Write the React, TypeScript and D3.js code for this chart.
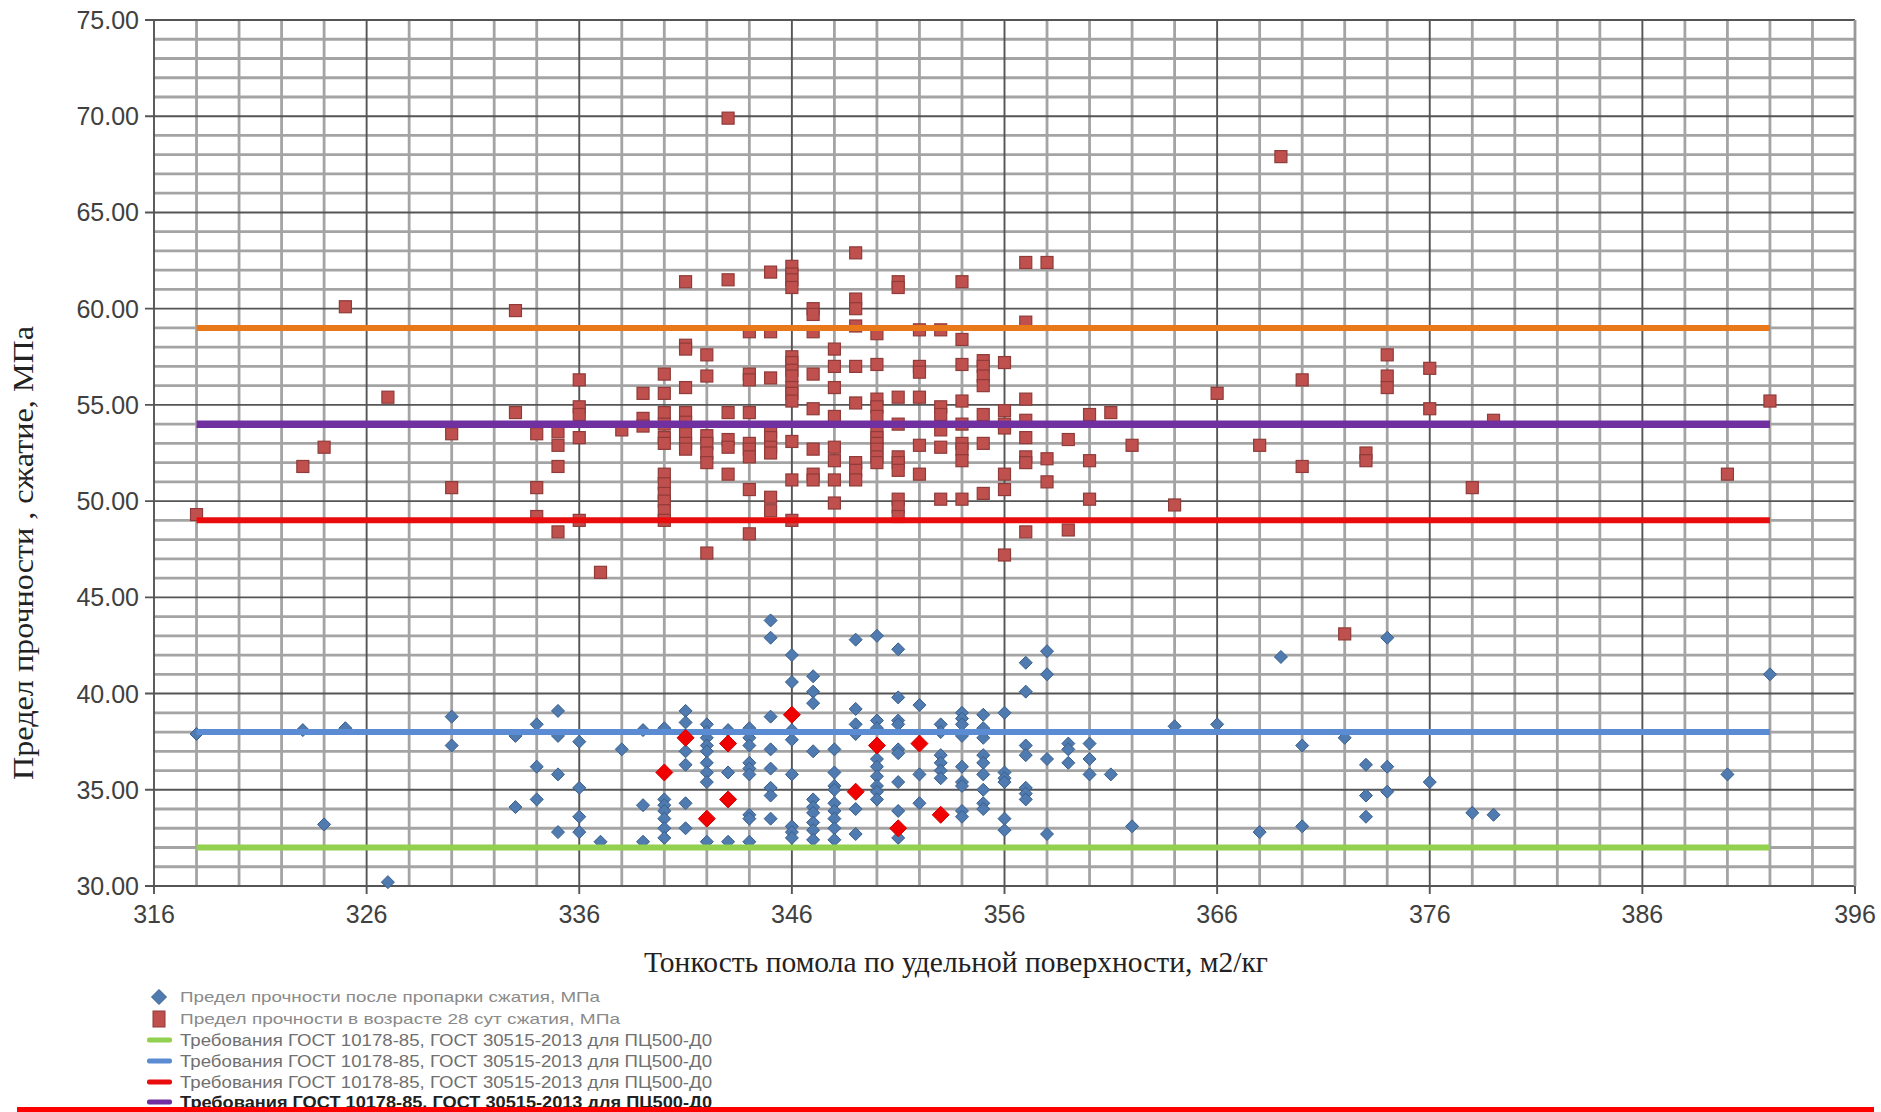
import React from "react";
import * as d3 from "d3";

// ---------- DATA ----------
const xTicks = [316, 326, 336, 346, 356, 366, 376, 386, 396];
const yTicks = [30, 35, 40, 45, 50, 55, 60, 65, 70, 75];

// Предел прочности после пропарки (blue diamonds): [surface, MPa]
const steamedPoints: [number, number][] = [
  [318, 37.9], [323, 38.1], [325, 38.2], [324, 33.2], [327, 30.2], [330, 38.8], [330, 37.3],
  [333, 37.8], [333, 34.1], [334, 38.4], [334, 36.2], [334, 34.5], [335, 39.1], [335, 37.8],
  [335, 35.8], [335, 32.8], [336, 37.5], [336, 35.1], [336, 33.6], [336, 32.8], [337, 32.3],
  [338, 37.1], [339, 38.1], [339, 34.2], [339, 32.3], [340, 38.2], [340, 34.5], [340, 34.2],
  [340, 33.9], [340, 33.5], [340, 33.0], [340, 32.5], [341, 39.1], [341, 38.5], [341, 37.0],
  [341, 36.3], [341, 34.3], [341, 33.0],
  [342, 38.4], [342, 38.0], [342, 37.7], [342, 37.3], [342, 37.0], [342, 36.4], [342, 35.9], [342, 35.4], [342, 32.3],
  [343, 38.1], [343, 35.9], [343, 32.3],
  [344, 38.2], [344, 37.7], [344, 37.3], [344, 36.4], [344, 36.1], [344, 35.8], [344, 33.7], [344, 33.5], [344, 32.3],
  [345, 43.8], [345, 42.9], [345, 38.8], [345, 37.1], [345, 36.1], [345, 35.1], [345, 34.7], [345, 33.5],
  [346, 42.0], [346, 40.6], [346, 38.1], [346, 37.6], [346, 35.8], [346, 33.1], [346, 32.8], [346, 32.5],
  [347, 40.9], [347, 40.1], [347, 39.5], [347, 37.0], [347, 34.5], [347, 34.1], [347, 33.8], [347, 33.3], [347, 32.9], [347, 32.4],
  [348, 37.1], [348, 35.9], [348, 35.2], [348, 35.0], [348, 34.3], [348, 33.9], [348, 33.5], [348, 33.0], [348, 32.4],
  [349, 42.8], [349, 39.2], [349, 38.4], [349, 37.9], [349, 34.0], [349, 32.7],
  [350, 43.0], [350, 38.6], [350, 38.2], [350, 36.6], [350, 36.2], [350, 35.7], [350, 35.2], [350, 34.9], [350, 34.5],
  [351, 42.3], [351, 39.8], [351, 38.6], [351, 38.4], [351, 37.1], [351, 36.9], [351, 35.4], [351, 33.9], [351, 32.5],
  [352, 39.4], [352, 35.8], [352, 34.3],
  [353, 38.4], [353, 38.0], [353, 36.8], [353, 36.4], [353, 36.0], [353, 35.6],
  [354, 39.0], [354, 38.7], [354, 38.4], [354, 37.8], [354, 36.2], [354, 35.4], [354, 35.2], [354, 33.9], [354, 33.6],
  [355, 38.9], [355, 38.2], [355, 37.7], [355, 36.8], [355, 36.4], [355, 35.8], [355, 35.0], [355, 34.3], [355, 34.0],
  [356, 39.0], [356, 35.9], [356, 35.6], [356, 35.4], [356, 33.5], [356, 32.9],
  [357, 41.6], [357, 40.1], [357, 37.3], [357, 36.8], [357, 35.1], [357, 34.8], [357, 34.5],
  [358, 42.2], [358, 41.0], [358, 36.6], [358, 32.7],
  [359, 37.4], [359, 37.1], [359, 36.4],
  [360, 37.4], [360, 36.6], [360, 35.8],
  [361, 35.8], [362, 33.1], [364, 38.3], [366, 38.4], [368, 32.8],
  [369, 41.9], [370, 37.3], [370, 33.1], [372, 37.7], [373, 36.3], [373, 34.7], [373, 33.6],
  [374, 42.9], [374, 36.2], [374, 34.9], [376, 35.4], [378, 33.8], [379, 33.7], [390, 35.8], [392, 41.0],
];

// Highlighted (red diamonds)
const highlightedPoints: [number, number][] = [
  [340, 35.9], [341, 37.7], [342, 33.5], [343, 37.4], [343, 34.5], [346, 38.9],
  [349, 34.9], [350, 37.3], [351, 33.0], [352, 37.4], [353, 33.7],
];

// Предел прочности в возрасте 28 сут (red squares)
const age28Points: [number, number][] = [
  [318, 49.3], [323, 51.8], [324, 52.8], [325, 60.1], [327, 55.4], [330, 53.5], [330, 50.7],
  [333, 59.9], [333, 54.6], [334, 53.5], [334, 50.7], [334, 49.2], [335, 53.6], [335, 52.9],
  [335, 51.8], [335, 48.4], [336, 56.3], [336, 54.9], [336, 54.5], [336, 53.3], [336, 49.0],
  [337, 46.3], [338, 53.7], [339, 55.6], [339, 54.3], [339, 53.9],
  [340, 56.6], [340, 55.6], [340, 54.6], [340, 54.0], [340, 53.3], [340, 53.0], [340, 51.4], [340, 50.9], [340, 50.4], [340, 50.0], [340, 49.5], [340, 49.0],
  [341, 61.4], [341, 58.1], [341, 57.9], [341, 55.9], [341, 54.6], [341, 54.1], [341, 53.5], [341, 53.0], [341, 52.7],
  [342, 57.6], [342, 56.5], [342, 53.4], [342, 53.0], [342, 52.5], [342, 52.0], [342, 47.3],
  [343, 69.9], [343, 61.5], [343, 54.6], [343, 53.2], [343, 52.8], [343, 51.4],
  [344, 58.8], [344, 56.6], [344, 56.3], [344, 54.6], [344, 53.0], [344, 52.7], [344, 52.3], [344, 50.6], [344, 48.3],
  [345, 61.9], [345, 58.8], [345, 56.4], [345, 53.6], [345, 53.3], [345, 52.8], [345, 52.5], [345, 50.2], [345, 49.5],
  [346, 62.2], [346, 61.8], [346, 61.5], [346, 61.1], [346, 57.5], [346, 57.2], [346, 56.8], [346, 56.5], [346, 55.9], [346, 55.6], [346, 55.2], [346, 53.1], [346, 51.1], [346, 49.0],
  [347, 60.0], [347, 59.7], [347, 58.8], [347, 56.6], [347, 54.8], [347, 52.7], [347, 51.4], [347, 51.1],
  [348, 57.9], [348, 57.0], [348, 55.9], [348, 54.4], [348, 52.8], [348, 52.1], [348, 51.1], [348, 49.9],
  [349, 62.9], [349, 60.5], [349, 60.0], [349, 59.1], [349, 57.0], [349, 55.1], [349, 52.0], [349, 51.6], [349, 51.1],
  [350, 58.7], [350, 57.1], [350, 55.3], [350, 54.9], [350, 54.4], [350, 53.7], [350, 53.3], [350, 53.0], [350, 52.7], [350, 52.3], [350, 52.0],
  [351, 61.4], [351, 61.1], [351, 55.4], [351, 54.0], [351, 52.3], [351, 52.0], [351, 51.6], [351, 50.1], [351, 49.7], [351, 49.2],
  [352, 58.9], [352, 57.0], [352, 56.7], [352, 55.4], [352, 52.9], [352, 51.4],
  [353, 58.9], [353, 54.9], [353, 54.5], [353, 53.7], [353, 52.8], [353, 50.1],
  [354, 61.4], [354, 58.4], [354, 57.1], [354, 55.2], [354, 54.0], [354, 53.0], [354, 52.7], [354, 52.1], [354, 50.1],
  [355, 57.3], [355, 57.0], [355, 56.5], [355, 56.0], [355, 54.5], [355, 53.0], [355, 50.4],
  [356, 57.2], [356, 54.7], [356, 54.0], [356, 53.8], [356, 51.4], [356, 50.6], [356, 47.2],
  [357, 62.4], [357, 59.3], [357, 55.3], [357, 54.2], [357, 53.3], [357, 52.3], [357, 52.0], [357, 48.4],
  [358, 62.4], [358, 52.2], [358, 51.0], [359, 53.2], [359, 48.5], [360, 54.5], [360, 52.1], [360, 50.1],
  [361, 54.6], [362, 52.9], [364, 49.8], [366, 55.6], [368, 52.9], [369, 67.9], [370, 56.3], [370, 51.8],
  [372, 43.1], [373, 52.5], [373, 52.1], [374, 57.6], [374, 56.5], [374, 55.9], [376, 56.9], [376, 54.8],
  [378, 50.7], [379, 54.2], [390, 51.4], [392, 55.2],
];

// Requirement lines (ГОСТ)
const reqLevels = [32, 38, 49, 54, 59];
const reqColors = ["#92D050", "#5B8BD2", "#E80C0C", "#7030A0", "#E8781A"];
const reqStart = 318;
const reqEnd = 392;

const legendLabels = [
  "Предел прочности после пропарки сжатия, МПа",
  "Предел прочности в возрасте 28 сут  сжатия, МПа",
  "Требования ГОСТ 10178-85, ГОСТ 30515-2013 для ПЦ500-Д0",
  "Требования ГОСТ 10178-85, ГОСТ 30515-2013 для ПЦ500-Д0",
  "Требования ГОСТ 10178-85, ГОСТ 30515-2013 для ПЦ500-Д0",
  "Требования ГОСТ 10178-85, ГОСТ 30515-2013 для ПЦ500-Д0",
];

const xTitle = "Тонкость помола по удельной поверхности, м2/кг";
const yTitle = "Предел прочности , сжатие, МПа";

// ---------- CHART ----------
const W = 1881;
const H = 1112;
const x = d3.scaleLinear().domain([316, 396]).range([154, 1855]);
const y = d3.scaleLinear().domain([30, 75]).range([886, 20]);

const diamond = (cx: number, cy: number, r: number) =>
  `M${cx},${cy - r}L${cx + r},${cy}L${cx},${cy + r}L${cx - r},${cy}Z`;

const SANS = "'Liberation Sans', Arial, sans-serif";
const SERIF = "'Liberation Serif', 'Times New Roman', serif";

export default function App() {
  const xMinor = d3.range(316, 397, 2).filter((v) => (v - 316) % 10 !== 0);
  const yMinor = d3.range(30, 76, 1).filter((v) => v % 5 !== 0);
  const line = d3.line<[number, number]>().x((d) => x(d[0])).y((d) => y(d[1]));

  const legendY = [997, 1019, 1040, 1061, 1082, 1102];
  const legendWidths = [420, 440, 532, 532, 532, 532];

  return (
    <svg
      width={W}
      height={H}
      style={{ position: "absolute", left: 0, top: 0, background: "#fff" }}
    >
      <rect x={0} y={0} width={W} height={H} fill="#fff" />
      {/* minor grid */}
      <g stroke="#a4a4a4" strokeWidth={2.8}>
        {yMinor.map((v) => (
          <line key={"ym" + v} x1={x(316)} x2={x(396)} y1={y(v)} y2={y(v)} />
        ))}
        {xMinor.map((v) => (
          <line key={"xm" + v} x1={x(v)} x2={x(v)} y1={y(30)} y2={y(75)} />
        ))}
      </g>
      {/* major grid */}
      <g stroke="#555" strokeWidth={1.9}>
        {yTicks.map((v) => (
          <line key={"yM" + v} x1={x(316) - 9} x2={x(396)} y1={y(v)} y2={y(v)} />
        ))}
        {xTicks.map((v) => (
          <line key={"xM" + v} x1={x(v)} x2={x(v)} y1={y(30) + 8} y2={y(75)} />
        ))}
      </g>
      <line x1={x(396)} x2={x(396)} y1={y(30)} y2={y(75)} stroke="#999" strokeWidth={2.8} />

      {/* tick labels */}
      <g fontFamily={SANS} fontSize={25} fill="#404040">
        {yTicks.map((v) => (
          <text key={"yl" + v} x={139} y={y(v)} dy="0.36em" textAnchor="end">
            {d3.format(".2f")(v)}
          </text>
        ))}
        {xTicks.map((v) => (
          <text key={"xl" + v} x={x(v)} y={923} textAnchor="middle">
            {v}
          </text>
        ))}
      </g>

      {/* axis titles */}
      <text
        x={956}
        y={972}
        textAnchor="middle"
        fontFamily={SERIF}
        fontSize={29}
        fill="#222"
        textLength={624}
        lengthAdjust="spacingAndGlyphs"
      >
        {xTitle}
      </text>
      <text
        transform={`translate(33,553) rotate(-90)`}
        textAnchor="middle"
        fontFamily={SERIF}
        fontSize={29}
        fill="#222"
        textLength={454}
        lengthAdjust="spacingAndGlyphs"
      >
        {yTitle}
      </text>

      {/* series: 28-day squares */}
      <g fill="#C0504D" stroke="#8E3B39" strokeWidth={1.2}>
        {age28Points.map((d, i) => (
          <rect key={"s" + i} x={x(d[0]) - 6} y={y(d[1]) - 6} width={12} height={12} />
        ))}
      </g>
      {/* series: steamed diamonds */}
      <g fill="#4F7BB0" stroke="#3A5E8A" strokeWidth={1}>
        {steamedPoints.map((d, i) => (
          <path key={"d" + i} d={diamond(x(d[0]), y(d[1]), 6.5)} />
        ))}
      </g>

      {/* requirement lines */}
      {reqLevels.map((v, i) => (
        <path
          key={"req" + v}
          d={line([[reqStart, v], [reqEnd, v]]) || ""}
          stroke={reqColors[i]}
          strokeWidth={v === 54 ? 7.5 : 6}
          fill="none"
        />
      ))}

      {/* highlighted red diamonds */}
      <g fill="#F00000" stroke="#D00000" strokeWidth={1}>
        {highlightedPoints.map((d, i) => (
          <path key={"h" + i} d={diamond(x(d[0]), y(d[1]), 8.5)} />
        ))}
      </g>

      {/* legend */}
      <g fontFamily={SANS}>
        <path d={diamond(159, legendY[0], 7.5)} fill="#4F7BB0" stroke="#3A5E8A" />
        <rect x={153} y={legendY[1] - 8} width={12} height={16} fill="#C0504D" stroke="#8E3B39" />
        {[0, 1, 2, 3].map((i) => (
          <rect
            key={"lg" + i}
            x={147}
            y={legendY[i + 2] - 2.5}
            width={25}
            height={5}
            rx={2}
            fill={reqColors[i]}
          />
        ))}
        {legendLabels.map((t, i) => (
          <text
            key={"lt" + i}
            x={180}
            y={legendY[i]}
            dy="0.35em"
            fontSize={i < 2 ? 15 : i === 5 ? 16 : 17}
            fill={i < 2 ? "#8a8a8a" : i === 5 ? "#222" : "#707070"}
            fontWeight={i === 5 ? "bold" : "normal"}
            textLength={legendWidths[i]}
            lengthAdjust="spacingAndGlyphs"
          >
            {t}
          </text>
        ))}
      </g>

      {/* red bar across the bottom */}
      <rect x={17} y={1107} width={1857} height={5} fill="#FF0000" />
    </svg>
  );
}
